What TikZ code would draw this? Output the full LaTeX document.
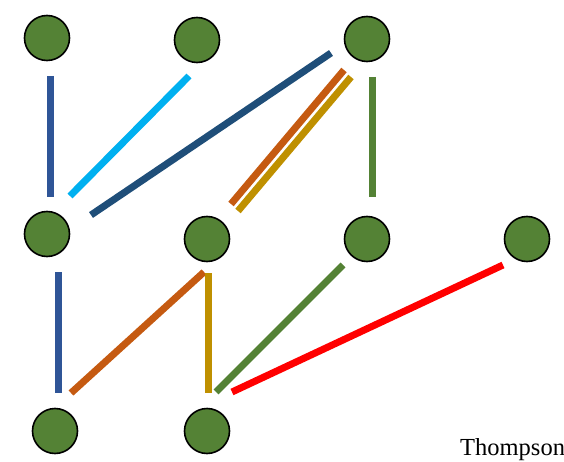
\documentclass[tikz,border=0pt]{standalone}
\usepackage{fontspec}
\setmainfont{Liberation Serif}
\definecolor{nodegreen}{HTML}{548235}
\definecolor{cblue}{HTML}{2F5597}
\definecolor{clightblue}{HTML}{00B0F0}
\definecolor{cdarkblue}{HTML}{1F4E79}
\definecolor{corange}{HTML}{C55A11}
\definecolor{cgold}{HTML}{BF9000}
\definecolor{cgreen}{HTML}{548235}
\definecolor{cred}{HTML}{FF0000}
\begin{document}
\begin{tikzpicture}[x=1pt,y=-1pt,
  vert/.style={circle,draw=black,line width=1.6pt,fill=nodegreen,minimum size=45pt,inner sep=0pt},
  edge/.style={line width=7pt,line cap=butt}]
\useasboundingbox (0,0) rectangle (564,462);
% nodes
\node[vert] (A) at (47,38) {};
\node[vert] (B) at (197,40) {};
\node[vert] (C) at (367,39) {};
\node[vert] (D) at (47,234) {};
\node[vert] (E) at (207,239) {};
\node[vert] (F) at (367,239) {};
\node[vert] (G) at (527,239) {};
\node[vert] (H) at (55,431) {};
\node[vert] (I) at (207,431) {};
% endpoints
\coordinate (a1) at (50,76);   \coordinate (a2) at (50,197);
\coordinate (b1) at (189,76);  \coordinate (b2) at (70,196);
\coordinate (c1) at (331,53);  \coordinate (c2) at (91,215);
\coordinate (d1) at (344,70);  \coordinate (d2) at (231,204);
\coordinate (e1) at (351,77);  \coordinate (e2) at (238,211);
\coordinate (f1) at (372,77);  \coordinate (f2) at (372,197);
\coordinate (g1) at (58,272);  \coordinate (g2) at (58,393);
\coordinate (h1) at (204,272); \coordinate (h2) at (71,393);
\coordinate (i1) at (208,273); \coordinate (i2) at (208,393);
\coordinate (j1) at (343,265); \coordinate (j2) at (216,392);
\coordinate (k1) at (503,265); \coordinate (k2) at (232,392);
% connectors
\draw[edge,cblue] (a1) -- (a2);
\draw[edge,clightblue] (b1) -- (b2);
\draw[edge,cdarkblue] (c1) -- (c2);
\draw[edge,corange] (d1) -- (d2);
\draw[edge,cgold] (e1) -- (e2);
\draw[edge,cgreen] (f1) -- (f2);
\draw[edge,cblue] (g1) -- (g2);
\draw[edge,corange] (h1) -- (h2);
\draw[edge,cgold] (i1) -- (i2);
\draw[edge,cgreen] (j1) -- (j2);
\draw[edge,cred] (k1) -- (k2);
% label
\node[anchor=base west,inner sep=0pt,font=\fontsize{24.5}{28}\selectfont] (lbl) at (460,455) {Thompson};
\end{tikzpicture}
\end{document}
